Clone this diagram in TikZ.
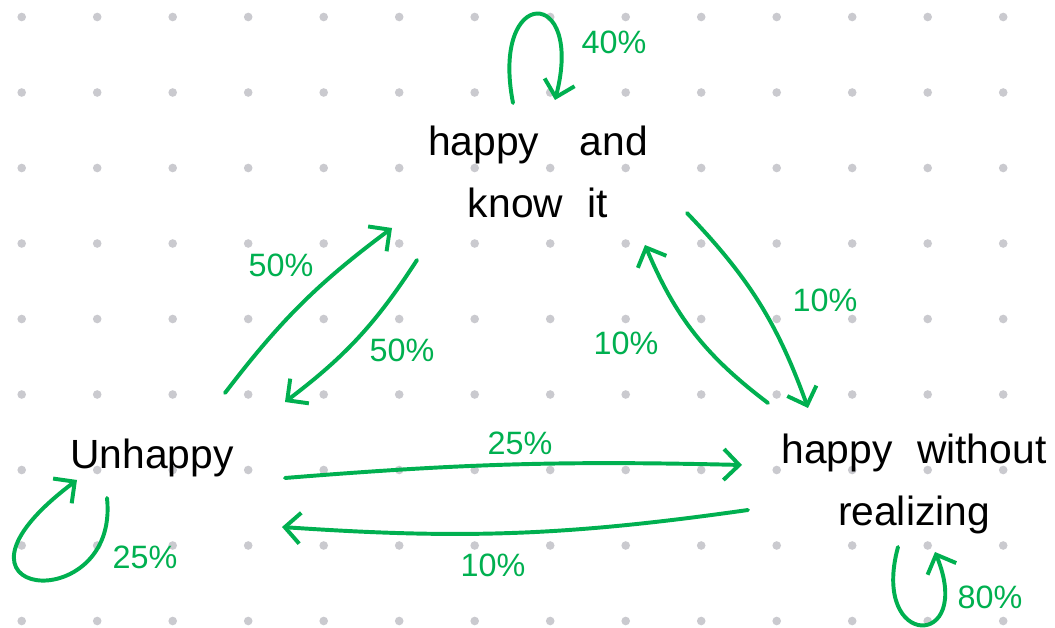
\documentclass[tikz,border=0pt]{standalone}
\usepackage{fontspec}
\setmainfont{Liberation Sans}
\usepackage{tikz}
\usetikzlibrary{arrows.meta,positioning,calc}

\definecolor{penGreen}{RGB}{0,176,80}
\definecolor{gridDot}{RGB}{202,202,207}

\begin{document}
\begin{tikzpicture}[
x=0.025cm, y=0.025cm,
state/.style={align=center, inner sep=0pt, font=\fontsize{29}{44}\selectfont},
prob/.style={text=penGreen, inner sep=0pt, font=\fontsize{23}{26}\selectfont},
arrow/.style={-{Straight Barb[length=11pt,width=22pt]}, draw=penGreen, line width=2.8pt, line cap=round}
]

% -------- Paper --------
\useasboundingbox (0,0) rectangle (1055,-628);
\fill[white] (0,0) rectangle (1055,-628);
\foreach \i in {0,...,13}
  \foreach \j in {0,...,8}
    \fill[gridDot] (21.7+75.5*\i,-17-75.5*\j) circle (4.3);

% -------- States --------
\node[state] (know) at (538,-172) {happy\hspace{1em}and\\know\hspace{0.6em}it};
\node[state] (unhappy) at (152,-458) {Unhappy};
\node[state] (unaware) at (914,-484) {happy\hspace{0.6em}without\\realizing};

% -------- Transitions --------
\draw[arrow] ([shift={(73,65)}]unhappy.center) to[bend left=8] ([shift={(-146,-56)}]know.center);
\draw[arrow] ([shift={(-121,-88)}]know.center) to[bend left=10] ([shift={(133,56)}]unhappy.center);
\draw[arrow] ([shift={(149,-41)}]know.center) to[bend left=12] ([shift={(-106,76)}]unaware.center);
\draw[arrow] ([shift={(-146,81)}]unaware.center) to[bend left=15] ([shift={(107,-73)}]know.center);
\draw[arrow] ([shift={(133,-20)}]unhappy.center) to[bend left=3] ([shift={(-172,19)}]unaware.center);
\draw[arrow] ([shift={(-166,-26)}]unaware.center) to[bend left=6] ([shift={(130,-69)}]unhappy.center);

% -------- Self loops --------
\draw[arrow] ([shift={(-25,69)}]know.center) .. controls +(-23,118) and +(30,115) .. ([shift={(17,72)}]know.center);
\draw[arrow] ([shift={(-45,-40)}]unhappy.center) .. controls +(13,-122) and +(-160,-120) .. ([shift={(-75,-22)}]unhappy.center);
\draw[arrow] ([shift={(-16,-63)}]unaware.center) .. controls +(-28,-103) and +(40,-98) .. ([shift={(21,-68)}]unaware.center);

% -------- Probabilities --------
\node[prob] (pKK) at (614,-42) {40\%};
\node[prob] (pUK) at (281,-265) {50\%};
\node[prob] (pKU) at (402,-350) {50\%};
\node[prob] (pKW) at (825,-300) {10\%};
\node[prob] (pWK) at (626,-343) {10\%};
\node[prob] (pUW) at (520,-443) {25\%};
\node[prob] (pWU) at (493,-565) {10\%};
\node[prob] (pUU) at (145,-557) {25\%};
\node[prob] (pWW) at (990,-597) {80\%};

\end{tikzpicture}
\end{document}
